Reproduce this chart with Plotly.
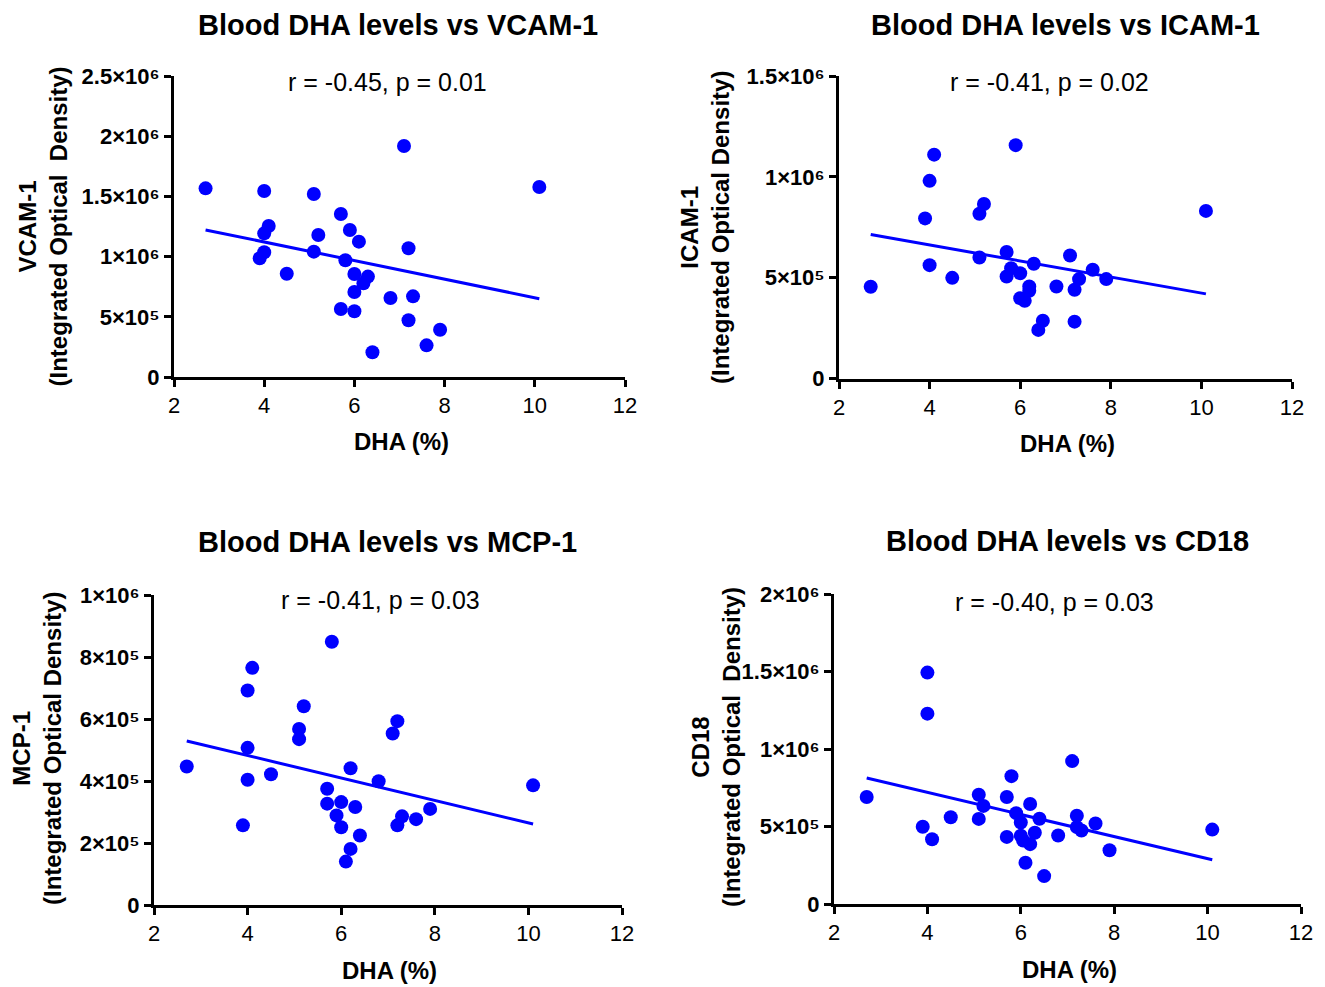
import numpy as np
import plotly.graph_objects as go

# ---- DHA (%) per subject, one list per marker panel ----
vcam_dha = [2.7, 4.0, 5.1, 7.1, 10.1, 5.7, 4.1, 4.0, 5.2, 5.9, 6.1, 7.2, 4.0, 3.9, 5.1,
            5.8, 4.5, 6.0, 6.3, 6.2, 6.0, 6.8, 7.3, 5.7, 6.0, 7.2, 7.9, 7.6, 6.4]
vcam_iod = [1567000, 1545000, 1520000, 1919000, 1578000, 1354000, 1254000, 1193000,
            1180000, 1221000, 1124000, 1069000, 1036000, 986000, 1041000, 970000,
            858000, 855000, 834000, 778000, 706000, 656000, 670000, 565000, 546000,
            471000, 393000, 263000, 205000]

icam_dha = [2.7, 3.9, 4.0, 4.1, 4.0, 4.5, 5.1, 5.2, 5.1, 5.9, 5.7, 5.8, 5.7, 6.0, 6.3,
            6.2, 6.2, 6.0, 6.1, 6.5, 6.4, 6.8, 7.1, 7.3, 7.2, 7.6, 7.9, 7.2, 10.1]
icam_iod = [455000, 794000, 980000, 1110000, 562000, 499000, 817000, 865000, 600000,
            1157000, 627000, 547000, 506000, 522000, 569000, 456000, 435000, 398000,
            385000, 286000, 241000, 456000, 610000, 493000, 440000, 539000, 493000,
            282000, 831000]

mcp_dha = [2.7, 3.9, 4.0, 4.0, 4.0, 4.1, 4.5, 5.1, 5.1, 5.2, 5.8, 5.7, 5.7, 6.0, 5.9,
           6.0, 6.2, 6.3, 6.4, 6.2, 6.1, 6.8, 7.2, 7.1, 7.3, 7.2, 7.6, 7.9, 10.1]
mcp_iod = [447000, 257000, 404000, 507000, 692000, 765000, 422000, 535000, 568000,
           641000, 849000, 375000, 327000, 332000, 289000, 251000, 441000, 316000,
           224000, 181000, 140000, 399000, 593000, 553000, 286000, 257000, 277000,
           310000, 386000]

cd18_dha = [2.7, 4.0, 4.0, 3.9, 4.1, 4.5, 5.1, 5.2, 5.1, 5.8, 5.7, 5.7, 5.9, 6.0, 6.0,
            6.05, 6.2, 6.2, 6.3, 6.4, 6.1, 6.5, 6.8, 7.1, 7.2, 7.2, 7.3, 7.6, 7.9, 10.1]
cd18_iod = [690000, 1493000, 1228000, 498000, 418000, 560000, 705000, 633000, 549000,
            825000, 690000, 433000, 586000, 526000, 440000, 410000, 645000, 386000,
            460000, 550000, 266000, 180000, 442000, 922000, 569000, 496000, 474000,
            519000, 347000, 480000]

# ---- text ----
titles = ["Blood DHA levels vs VCAM-1", "Blood DHA levels vs ICAM-1",
          "Blood DHA levels vs MCP-1", "Blood DHA levels vs CD18"]
stats = ["r = -0.45, p = 0.01", "r = -0.41, p = 0.02",
         "r = -0.41, p = 0.03", "r = -0.40, p = 0.03"]
markers = ["VCAM-1", "ICAM-1", "MCP-1", "CD18"]
density_labels = ["(Integrated Optical\u00a0 Density)", "(Integrated Optical Density)",
                  "(Integrated Optical Density)", "(Integrated Optical\u00a0 Density)"]
x_title = "DHA (%)"

x_ticks = [2, 4, 6, 8, 10, 12]
y_ticks = [
    [0, 500000, 1000000, 1500000, 2000000, 2500000],
    [0, 500000, 1000000, 1500000],
    [0, 200000, 400000, 600000, 800000, 1000000],
    [0, 500000, 1000000, 1500000, 2000000],
]
y_tick_text = [
    ["0", "5×10⁵", "1×10⁶", "1.5×10⁶", "2×10⁶", "2.5×10⁶"],
    ["0", "5×10⁵", "1×10⁶", "1.5×10⁶"],
    ["0", "2×10⁵", "4×10⁵", "6×10⁵", "8×10⁵", "1×10⁶"],
    ["0", "5×10⁵", "1×10⁶", "1.5×10⁶", "2×10⁶"],
]

series = [(vcam_dha, vcam_iod), (icam_dha, icam_iod), (mcp_dha, mcp_iod), (cd18_dha, cd18_iod)]

W, H = 1325, 987
FONT = "Arial, Liberation Sans, sans-serif"
BLUE = "#0000FF"

# plot-area boxes in pixels: (left, right, top, bottom)
boxes = [(174, 625, 76, 377), (839, 1292, 76, 378.5),
         (154, 622, 595, 905), (834, 1301, 594, 904)]
# label anchor points in pixels
title_pos = [(398, 25), (1065, 25), (387, 542), (1067, 541)]
stat_pos = [(387.5, 82), (1049.5, 82), (380, 600), (1054, 602)]
xtitle_pos = [(401, 441), (1067, 443), (389, 970), (1069, 969)]
ytitle_pos = [(42.5, 227), (705, 228), (37, 749), (715.5, 747.5)]


def px(x):
    return x / W


def py(y):
    return (H - y) / H


fig = go.Figure()
annotations = []

for i, ((xs, ys), box) in enumerate(zip(series, boxes)):
    n = i + 1
    xa = "x" if n == 1 else f"x{n}"
    ya = "y" if n == 1 else f"y{n}"
    l, r, t, b = box

    fig.add_trace(go.Scatter(
        x=xs, y=ys, mode="markers", xaxis=xa, yaxis=ya,
        marker=dict(color=BLUE, size=14, line=dict(width=0)),
        showlegend=False, hoverinfo="x+y"))

    # least-squares line over the observed DHA range
    slope, intercept = np.polyfit(xs, ys, 1)
    fx = np.array([min(xs), max(xs)])
    fig.add_trace(go.Scatter(
        x=fx, y=slope * fx + intercept, mode="lines", xaxis=xa, yaxis=ya,
        line=dict(color=BLUE, width=3), showlegend=False, hoverinfo="skip"))

    axis_common = dict(showline=True, linecolor="black", linewidth=3, mirror=False,
                       ticks="outside", ticklen=7, tickwidth=3, tickcolor="black",
                       showgrid=False, zeroline=False, automargin=False)
    fig.update_layout(**{
        ("xaxis" if n == 1 else f"xaxis{n}"): dict(
            domain=[px(l), px(r)], anchor=ya, range=[2, 12],
            tickvals=x_ticks, ticktext=[str(v) for v in x_ticks],
            tickfont=dict(family=FONT, size=22, color="black"),
            **axis_common),
        ("yaxis" if n == 1 else f"yaxis{n}"): dict(
            domain=[py(b), py(t)], anchor=xa, range=[0, y_ticks[i][-1]],
            tickvals=y_ticks[i], ticktext=y_tick_text[i],
            tickfont=dict(family=FONT, size=22, color="black", weight="bold"),
            **axis_common),
    })

    tx, ty = title_pos[i]
    annotations.append(dict(text=titles[i], x=px(tx), y=py(ty),
                            xref="paper", yref="paper", showarrow=False,
                            xanchor="center", yanchor="middle",
                            font=dict(family=FONT, size=29, color="black", weight="bold")))
    sx, sy = stat_pos[i]
    annotations.append(dict(text=stats[i], x=px(sx), y=py(sy),
                            xref="paper", yref="paper", showarrow=False,
                            xanchor="center", yanchor="middle",
                            font=dict(family=FONT, size=25, color="black")))
    ax_, ay_ = xtitle_pos[i]
    annotations.append(dict(text=x_title, x=px(ax_), y=py(ay_),
                            xref="paper", yref="paper", showarrow=False,
                            xanchor="center", yanchor="middle",
                            font=dict(family=FONT, size=24, color="black", weight="bold")))
    yx, yy = ytitle_pos[i]
    annotations.append(dict(text=f"{markers[i]}<br>{density_labels[i]}",
                            x=px(yx), y=py(yy), xref="paper", yref="paper",
                            showarrow=False, textangle=-90,
                            xanchor="center", yanchor="middle",
                            font=dict(family=FONT, size=24, color="black", weight="bold")))

fig.update_layout(
    width=W, height=H,
    margin=dict(l=0, r=0, t=0, b=0, pad=0, autoexpand=False),
    paper_bgcolor="white", plot_bgcolor="white",
    annotations=annotations,
    showlegend=False,
)

# pin the figure to the page's top-left corner with no body margin
page_fix = (
    "document.body.style.margin='0';"
    "var d=document.getElementById('{plot_id}');"
    "d.style.position='absolute';d.style.left='0';d.style.top='0';"
)
fig.write_html("out.html", post_script=page_fix)
